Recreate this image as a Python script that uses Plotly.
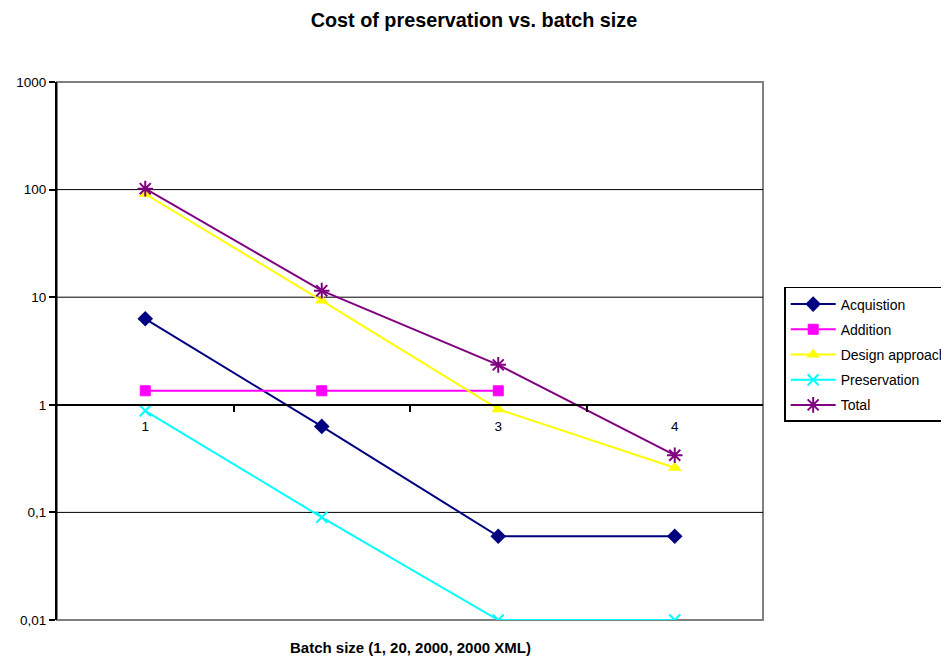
import plotly.graph_objects as go

categories = [1, 2, 3, 4]
category_labels = ["1", "2", "3", "4"]
acquisition = [6.3, 0.63, 0.06, 0.06]
addition = [1.35, 1.35, 1.35, None]
design_approach = [91, 9.3, 0.91, 0.26]
preservation = [0.88, 0.09, 0.01, 0.01]
total = [102, 11.5, 2.35, 0.34]

y_tickvals = [0.01, 0.1, 1, 10, 100, 1000]
y_ticktext = ["0,01", "0,1", "1", "10", "100", "1000"]
grid_vals = [0.1, 10, 100]

FONT = "Arial, Liberation Sans, sans-serif"
W, H = 941, 648  # page body has an 8px margin inside the 949x656 window
ML, MR, MT, MB = 49, 186, 74, 36
PLOT_H = H - MT - MB

fig = go.Figure()

# category labels sitting just under the y=1 axis line (drawn first so markers cover them)
fig.add_trace(go.Scatter(
    x=categories, y=[0.61] * 4, mode="text", text=category_labels,
    textfont=dict(family=FONT, size=13.5, color="black"),
    showlegend=False, hoverinfo="skip"))

series = [
    ("Acquistion", acquisition, "#000080", dict(symbol="diamond", size=12, color="#000080")),
    ("Addition", addition, "#FF00FF", dict(symbol="square", size=10, color="#FF00FF",
                                           line=dict(color="#FF00FF", width=1))),
    ("Design approach", design_approach, "#FFFF00", dict(symbol="triangle-up", size=12, color="#FFFF00")),
    ("Preservation", preservation, "#00FFFF", dict(symbol="x-thin", size=11,
                                                  line=dict(color="#00FFFF", width=2))),
    ("Total", total, "#800080", dict(symbol="asterisk", size=13,
                                     line=dict(color="#800080", width=2))),
]
for i, (name, vals, col, mk) in enumerate(series):
    fig.add_trace(go.Scatter(
        x=categories, y=vals, name=name, mode="lines+markers",
        line=dict(color=col, width=2), marker=mk, legendgroup=f"g{i}",
        connectgaps=False))

shapes = [dict(type="rect", xref="paper", yref="paper", x0=0, x1=1, y0=0, y1=1,
               line=dict(color="#808080", width=2), layer="below")]
for g in grid_vals:
    shapes.append(dict(type="line", xref="paper", yref="y", x0=0, x1=1, y0=g, y1=g,
                       line=dict(color="black", width=1), layer="below"))

fig.update_layout(
    width=W, height=H,
    margin=dict(l=ML, r=MR, t=MT, b=MB, autoexpand=False),
    paper_bgcolor="white", plot_bgcolor="white",
    font=dict(family=FONT, size=13.5, color="black"),
    title=dict(text="<b>Cost of preservation vs. batch size</b>", x=(474 - 8) / W, xref="container",
               xanchor="center", y=1 - 12 / H, yref="container", yanchor="middle",
               font=dict(family=FONT, size=19.8, color="black")),
    xaxis=dict(range=[0.5, 4.5], anchor="free", position=0.4, showline=True,
               linecolor="black", linewidth=2, showgrid=False, zeroline=False,
               tickvals=[1.5, 2.5, 3.5], ticks="outside", ticklen=6, tickwidth=1.5,
               tickcolor="black", showticklabels=False),
    yaxis=dict(type="log", range=[-2, 3], tickvals=y_tickvals, ticktext=y_ticktext,
               showline=True, linecolor="black", linewidth=2, showgrid=False,
               zeroline=False, ticks="outside", ticklen=6, tickwidth=1.5, tickcolor="black",
               tickfont=dict(family=FONT, size=13.5, color="black")),
    legend=dict(x=1.03, y=0.619, xanchor="left", yanchor="top",
                bordercolor="black", borderwidth=1.5, bgcolor="white", itemwidth=45,
                font=dict(family=FONT, size=14, color="black"), tracegroupgap=4),
    shapes=shapes,
    annotations=[dict(text="<b>Batch size (1, 20, 2000, 2000 XML)</b>", xref="paper",
                      yref="paper", x=0.5, y=-27 / PLOT_H, yanchor="middle", showarrow=False,
                      font=dict(family=FONT, size=15, color="black"))],
)

fig.write_html("out.html")
